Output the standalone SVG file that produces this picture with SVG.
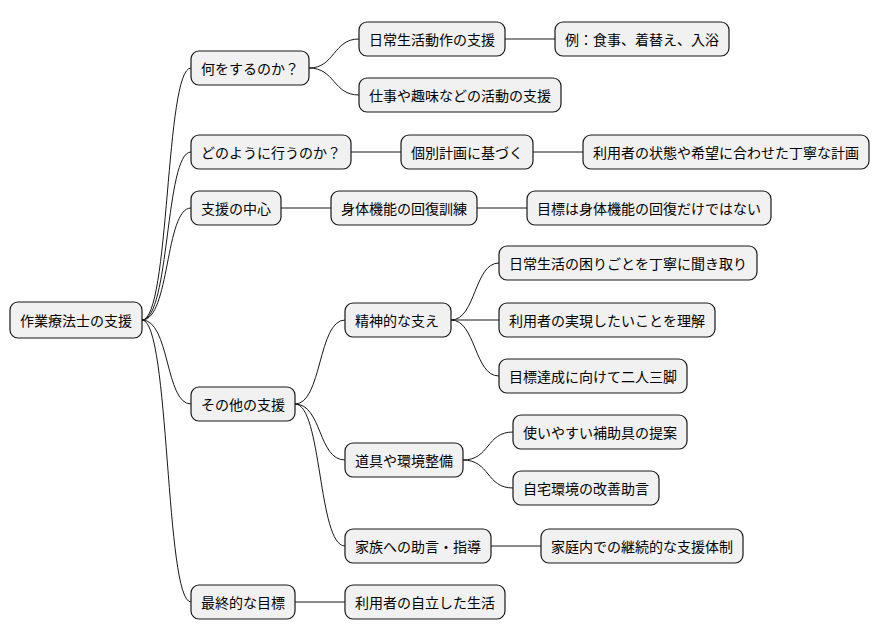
<svg xmlns="http://www.w3.org/2000/svg" width="880" height="640" viewBox="0 0 880 640">
<style>
.n rect{fill:#f1f1f1;stroke:#181818;stroke-width:1.2}
.n text{font-family:"Noto Sans CJK JP","Noto Sans",sans-serif;font-size:14px;fill:#000;dominant-baseline:central}
#c path{fill:none;stroke:#181818;stroke-width:1}
</style>
<rect width="880" height="640" fill="#fff"/>
<g id="c">
<path d="M142,320 C170,320 165,68 191,68"/>
<path d="M142,320 C170,320 165,152 191,152"/>
<path d="M142,320 C170,320 165,208 191,208"/>
<path d="M142,320 C170,320 165,404 191,404"/>
<path d="M142,320 C170,320 165,602 191,602"/>
<path d="M309,68 C335,68 333,39 359,39"/>
<path d="M309,68 C335,68 333,95 359,95"/>
<path d="M351,152 L401,152"/>
<path d="M281,208 L331,208"/>
<path d="M295,404 C322,404 318,320 345,320"/>
<path d="M295,404 C322,404 318,460 345,460"/>
<path d="M295,404 C322,404 318,546 345,546"/>
<path d="M295,602 L345,602"/>
<path d="M505,39 L555,39"/>
<path d="M533,152 L583,152"/>
<path d="M477,208 L527,208"/>
<path d="M451,320 C476,320 474,263 499,263"/>
<path d="M451,320 L499,320"/>
<path d="M451,320 C476,320 474,376 499,376"/>
<path d="M463,460 C490,460 486,432 513,432"/>
<path d="M463,460 C490,460 486,488 513,488"/>
<path d="M491,546 L541,546"/>
</g>
<g id="root" class="n"><rect x="10" y="302" width="132" height="36" rx="8"/><text x="20" y="320">作業療法士の支援</text></g>
<g id="n1" class="n"><rect x="191" y="51" width="118" height="34" rx="8"/><text x="201" y="68">何をするのか？</text></g>
<g id="n2" class="n"><rect x="191" y="135" width="160" height="34" rx="8"/><text x="201" y="152">どのように行うのか？</text></g>
<g id="n3" class="n"><rect x="191" y="191" width="90" height="34" rx="8"/><text x="201" y="208">支援の中心</text></g>
<g id="n4" class="n"><rect x="191" y="387" width="104" height="34" rx="8"/><text x="201" y="404">その他の支援</text></g>
<g id="n5" class="n"><rect x="191" y="585" width="104" height="34" rx="8"/><text x="201" y="602">最終的な目標</text></g>
<g id="n11" class="n"><rect x="359" y="22" width="146" height="34" rx="8"/><text x="369" y="39">日常生活動作の支援</text></g>
<g id="n12" class="n"><rect x="359" y="78" width="202" height="34" rx="8"/><text x="369" y="95">仕事や趣味などの活動の支援</text></g>
<g id="n21" class="n"><rect x="401" y="135" width="132" height="34" rx="8"/><text x="411" y="152">個別計画に基づく</text></g>
<g id="n31" class="n"><rect x="331" y="191" width="146" height="34" rx="8"/><text x="341" y="208">身体機能の回復訓練</text></g>
<g id="n41" class="n"><rect x="345" y="303" width="106" height="34" rx="8"/><text x="355" y="320">精神的な支え</text></g>
<g id="n42" class="n"><rect x="345" y="443" width="118" height="34" rx="8"/><text x="355" y="460">道具や環境整備</text></g>
<g id="n43" class="n"><rect x="345" y="529" width="146" height="34" rx="8"/><text x="355" y="546">家族への助言・指導</text></g>
<g id="n51" class="n"><rect x="345" y="585" width="160" height="34" rx="8"/><text x="355" y="602">利用者の自立した生活</text></g>
<g id="n111" class="n"><rect x="555" y="22" width="174" height="34" rx="8"/><text x="565" y="39">例：食事、着替え、入浴</text></g>
<g id="n211" class="n"><rect x="583" y="135" width="286" height="34" rx="8"/><text x="593" y="152">利用者の状態や希望に合わせた丁寧な計画</text></g>
<g id="n311" class="n"><rect x="527" y="191" width="244" height="34" rx="8"/><text x="537" y="208">目標は身体機能の回復だけではない</text></g>
<g id="n411" class="n"><rect x="499" y="246" width="258" height="34" rx="8"/><text x="509" y="263">日常生活の困りごとを丁寧に聞き取り</text></g>
<g id="n412" class="n"><rect x="499" y="303" width="216" height="34" rx="8"/><text x="509" y="320">利用者の実現したいことを理解</text></g>
<g id="n413" class="n"><rect x="499" y="359" width="188" height="34" rx="8"/><text x="509" y="376">目標達成に向けて二人三脚</text></g>
<g id="n421" class="n"><rect x="513" y="415" width="174" height="34" rx="8"/><text x="523" y="432">使いやすい補助具の提案</text></g>
<g id="n422" class="n"><rect x="513" y="471" width="146" height="34" rx="8"/><text x="523" y="488">自宅環境の改善助言</text></g>
<g id="n431" class="n"><rect x="541" y="529" width="202" height="34" rx="8"/><text x="551" y="546">家庭内での継続的な支援体制</text></g>
</svg>
